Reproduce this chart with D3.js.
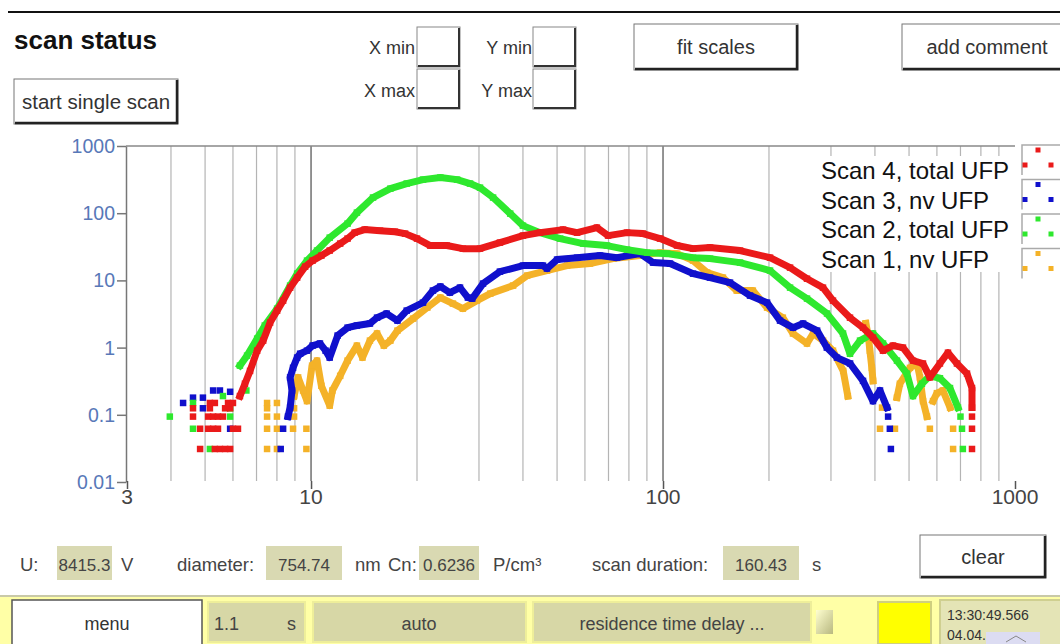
<!DOCTYPE html>
<html><head><meta charset="utf-8">
<script src="https://cdn.jsdelivr.net/npm/d3@7"></script>
<style>
body{margin:0;background:#fff;}
svg{display:block;font-family:"Liberation Sans",Arial,sans-serif;}
</style></head><body>
<svg id="c" width="1060" height="644"></svg>
<script>
// ---------- data ----------
const xTickValues = [3, 10, 100, 1000];
const xTickLabels = ["3", "10", "100", "1000"];
const yTickValues = [1000, 100, 10, 1, 0.1, 0.01];
const yTickLabels = ["1000", "100", "10", "1", "0.1", "0.01"];
const legendLabels = ["Scan 4, total UFP", "Scan 3, nv UFP", "Scan 2, total UFP", "Scan 1, nv UFP"];
const seriesColors = ["#ea1a1a", "#1010cc", "#2ee82e", "#f4b228"];

// Scan 4, total UFP (red)  [diameter nm, concentration]
const scan4Curve = [[6.28,0.19],[6.49,0.29],[6.71,0.45],[7.03,0.9],[7.31,1.27],[7.65,2.36],[8.01,3.55],[8.33,5.0],[8.72,7.8],[9.13,11],[9.62,16],[10.1,19.7],[10.7,23.4],[11.3,27.8],[12.1,35.3],[12.7,41.9],[13.3,51.4],[14.2,57],[15.7,55],[17.3,53],[18.5,49.7],[20.0,41.9],[21.8,33],[24.3,33],[27.0,29.7],[30.2,29.7],[34.4,36.5],[40,46.4],[44.7,51.4],[52,57],[57,51.4],[64.9,61],[69.8,46.4],[79,51.4],[87.7,49.7],[98.1,41.9],[109.6,33],[121.7,29.7],[136,30.8],[165.5,27.8],[201.4,21.8],[229.6,15.5],[256.5,10.6],[284.8,7.8],[304,5.0],[339.8,2.79],[370,1.98],[395,1.41],[421.7,0.9],[450,1.07],[480.6,1.0],[513,0.64],[547.7,0.58],[573,0.36],[612,0.58],[645,0.84],[684,0.58],[730.5,0.41],[754.8,0.25],[754.8,0.128]];
const scan4Dots = [[4.84,0.031],[5.33,0.031],[5.51,0.031],[5.7,0.031],[5.89,0.031],[4.84,0.062],[5.1,0.062],[5.27,0.062],[5.44,0.062],[6.0,0.062],[6.2,0.062],[4.62,0.094],[5.1,0.094],[5.27,0.094],[5.44,0.094],[5.62,0.094],[4.62,0.125],[5.16,0.125],[5.7,0.125],[5.89,0.125],[5.16,0.15],[5.33,0.15],[5.81,0.15],[6.0,0.15],[754.8,0.094],[754.8,0.062],[754.8,0.031]];

// Scan 3, nv UFP (blue)
const scan3Curve = [[8.6,0.094],[8.72,0.128],[8.83,0.23],[8.72,0.36],[8.89,0.5],[9.13,0.71],[9.31,0.81],[9.74,0.9],[10.1,1.07],[10.6,1.15],[11.0,0.9],[11.3,0.71],[11.9,1.51],[12.7,1.98],[13.5,2.13],[14.7,2.28],[15.4,2.79],[16.4,3.21],[17.6,2.52],[18.7,3.55],[20.8,4.67],[22.2,7.05],[23.3,8.1],[24.8,6.58],[26.5,7.81],[27.9,5.55],[28.7,5.36],[30.8,8.96],[34.4,13.5],[40,16.6],[45.6,16.6],[46.8,15.0],[50,20.4],[57,21.8],[66.2,23.4],[74,21.8],[86.1,25.0],[93.7,18.4],[104.7,17.8],[121.7,12.6],[136,11.0],[155,9.27],[176.7,5.94],[197.5,4.67],[215,2.52],[234,1.98],[250,2.28],[274,1.79],[292,1.0],[312,0.71],[340,0.58],[370,0.32],[395,0.16],[413.5,0.23],[433,0.128]];
const scan3Dots = [[4.33,0.15],[4.62,0.18],[4.93,0.18],[4.93,0.125],[5.27,0.23],[5.51,0.23],[5.89,0.22],[5.89,0.062],[8.2,0.031],[8.33,0.062],[436,0.094],[441,0.062],[444,0.031]];

// Scan 2, total UFP (green)
const scan2Curve = [[6.28,0.54],[6.58,0.76],[7.03,1.36],[7.39,2.13],[8.01,3.8],[8.72,8.37],[9.13,12.6],[9.74,19.7],[10.4,27.8],[11.3,43.3],[12.7,70],[13.5,102],[15.0,171],[16.8,232],[18.7,276],[20.8,316],[23.3,339],[26.0,316],[28.3,276],[30.2,240],[32.9,171],[36.8,98.7],[40,65.3],[44.7,51.4],[51,41.9],[59.3,35.3],[69.3,33],[79,28.7],[90.1,25.9],[102.7,25],[121.7,21.8],[136,21.1],[165.5,18.4],[201.4,14.0],[229.6,7.81],[256.5,5.36],[292.4,3.21],[324.6,1.62],[339.8,0.81],[362.8,1.27],[395,1.62],[421.7,1.15],[462,0.64],[493,0.41],[513,0.19],[544,0.29],[573,0.38],[612,0.35],[653.6,0.25],[688.8,0.128]];
const scan2Dots = [[3.97,0.094],[4.62,0.062],[4.62,0.15],[5.16,0.031],[5.62,0.19],[5.89,0.125],[5.89,0.094],[6.55,0.23],[700,0.094],[707,0.062],[711,0.031]];

// Scan 1, nv UFP (orange)
const scan1Curve = [[8.95,0.19],[9.19,0.36],[9.49,0.23],[9.74,0.16],[10.07,0.54],[10.4,0.64],[10.7,0.27],[11.3,0.137],[11.5,0.23],[12.1,0.38],[12.7,0.64],[13.5,1.07],[14.0,0.71],[14.7,1.27],[15.4,1.62],[16.1,1.07],[16.8,1.27],[17.6,1.79],[19.5,2.7],[21.4,3.94],[23.3,5.55],[25.3,4.52],[27.0,3.8],[29.6,5.0],[32.3,6.36],[37.5,8.37],[41.1,11.8],[46.8,14.0],[53.4,16.6],[62,17.8],[72.1,21.1],[86.1,23.4],[98.1,25.9],[109.6,25.0],[121.7,19.7],[133.4,13.1],[148,11.0],[162,7.05],[180,7.05],[197.5,3.94],[219,2.79],[234,1.62],[256.5,1.15],[267,1.62],[285,1.27],[304,0.9],[325,0.45],[335,0.19]];
const scan1TailA = [[377,2.3],[383,1.5],[387,0.9],[392,0.5],[395,0.32]];
const scan1TailB = [[462,0.18],[471,0.29],[503,0.5],[527,0.58],[537,0.36],[548,0.16],[562,0.094]];
const scan1TailC = [[585,0.16],[600,0.21],[624,0.23],[654,0.128]];
const scan1Dots = [[7.5,0.15],[7.5,0.125],[7.5,0.094],[7.5,0.062],[7.5,0.031],[8.0,0.15],[8.0,0.094],[8.0,0.062],[8.0,0.031],[8.89,0.062],[8.95,0.125],[8.95,0.094],[9.7,0.062],[9.7,0.031],[419,0.128],[413.5,0.062],[456,0.062],[573,0.062],[667,0.062],[667,0.031]];

// ---------- drawing ----------
const svg = d3.select("#c");
const x = d3.scaleLog().domain([3, 1000]).range([127, 1015]);
const y = d3.scaleLog().domain([0.01, 1000]).range([482, 146]);

// header line
svg.append("line").attr("x1",8).attr("x2",1060).attr("y1",12).attr("y2",12).attr("stroke","#111").attr("stroke-width",2);
svg.append("text").attr("x",14).attr("y",49).attr("font-size",26).attr("font-weight","bold").attr("fill","#111").text("scan status");

function button(x0,y0,w,h,label,fs){
  const g = svg.append("g");
  g.append("rect").attr("x",x0).attr("y",y0).attr("width",w).attr("height",h).attr("fill","#fff").attr("stroke","#777").attr("stroke-width",1);
  g.append("path").attr("d",`M${x0+1},${y0+h-1}H${x0+w-1}V${y0+1}`).attr("fill","none").attr("stroke","#222").attr("stroke-width",2.5);
  g.append("text").attr("x",x0+w/2).attr("y",y0+h/2+7).attr("text-anchor","middle").attr("font-size",fs).attr("fill","#333").text(label);
}
button(14,79,164,45,"start single scan",20.5);
button(634,24,164,46,"fit scales",20);
button(902,24,170,46,"add comment",20);
button(920,535,126,43,"clear",20);

function inputBox(x0,y0,w,h){
  svg.append("rect").attr("x",x0).attr("y",y0).attr("width",w).attr("height",h).attr("fill","#fff").attr("stroke","#888");
  svg.append("path").attr("d",`M${x0+1},${y0+h-1}H${x0+w-1}V${y0+1}`).attr("fill","none").attr("stroke","#333").attr("stroke-width",2);
}
const fieldLabels = [["X min",415,54,417,27],["X max",415,97,417,69],["Y min",532,54,533,27],["Y max",532,97,533,69]];
fieldLabels.forEach(f=>{
  svg.append("text").attr("x",f[1]).attr("y",f[2]).attr("text-anchor","end").attr("font-size",18).attr("fill","#333").text(f[0]);
  inputBox(f[3],f[4],43,40);
});

// grid
const minorX = [4,5,6,7,8,9,20,30,40,50,60,70,80,90,200,300,400,500,600,700,800,900];
const majorX = [10,100];
svg.append("g").selectAll("line").data(minorX).join("line")
  .attr("x1",d=>x(d)).attr("x2",d=>x(d)).attr("y1",146).attr("y2",481)
  .attr("stroke","#b4b4b4").attr("stroke-width",1.2);
svg.append("g").selectAll("line").data(majorX).join("line")
  .attr("x1",d=>x(d)).attr("x2",d=>x(d)).attr("y1",146).attr("y2",481)
  .attr("stroke","#666").attr("stroke-width",1.4);
svg.append("line").attr("x1",126).attr("x2",1015).attr("y1",146).attr("y2",146).attr("stroke","#888").attr("stroke-width",1.5);

// axes
const yAxis = d3.axisLeft(y).tickValues(yTickValues).tickFormat("").tickSize(9).tickSizeOuter(0);
const gy = svg.append("g").attr("transform","translate(126,0)").call(yAxis);
gy.selectAll("path,line").attr("stroke","#777").attr("stroke-width",1.5);
svg.append("g").selectAll("text").data(yTickValues).join("text")
  .attr("x",115).attr("y",d=>y(d)+7).attr("text-anchor","end").attr("font-size",19.5).attr("fill","#5878b8")
  .text((d,i)=>yTickLabels[i]);

const xAxis = d3.axisBottom(x).tickValues(xTickValues).tickFormat("").tickSize(8).tickSizeOuter(0);
const gx = svg.append("g").attr("transform","translate(0,481)").call(xAxis);
gx.select(".domain").remove();
gx.selectAll("line").attr("stroke","#555").attr("stroke-width",1.5);
svg.append("g").selectAll("text").data(xTickValues).join("text")
  .attr("x",d=>x(d)).attr("y",504).attr("text-anchor","middle").attr("font-size",21).attr("fill","#444")
  .text((d,i)=>xTickLabels[i]);

// series
const line = d3.line().x(d=>x(d[0])).y(d=>y(d[1]));
const S = 6.5;
function drawCurve(data,color){
  svg.append("path").datum(data).attr("d",line).attr("fill","none").attr("stroke",color)
    .attr("stroke-width",7).attr("stroke-linejoin","round").attr("stroke-linecap","square");
  drawDots(data,color);
}
function drawDots(data,color){
  svg.append("g").selectAll("rect").data(data).join("rect")
    .attr("x",d=>x(d[0])-S/2).attr("y",d=>y(d[1])-S/2).attr("width",S).attr("height",S).attr("fill",color);
}
const [cRed,cBlue,cGreen,cOrange] = seriesColors;
drawDots(scan1Dots,cOrange);
drawCurve(scan1Curve,cOrange);
drawCurve(scan1TailA,cOrange);
drawCurve(scan1TailB,cOrange);
drawCurve(scan1TailC,cOrange);
drawDots(scan3Dots,cBlue);
drawCurve(scan3Curve,cBlue);
drawDots(scan2Dots,cGreen);
drawCurve(scan2Curve,cGreen);
drawDots(scan4Dots,cRed);
drawCurve(scan4Curve,cRed);

// legend
svg.append("rect").attr("x",818).attr("y",156).attr("width",200).attr("height",116).attr("fill","#fff");
legendLabels.forEach((lab,i)=>{
  const yy = 179 + i*29.5;
  svg.append("text").attr("x",821).attr("y",yy).attr("font-size",24).attr("fill","#111").text(lab);
  const by = 145 + i*34.5;
  svg.append("path").attr("d",`M1022,${by+30}V${by}H1060`).attr("fill","none").attr("stroke","#aaa").attr("stroke-width",1.5);
  const col = seriesColors[i];
  [[1038,by+5],[1025,by+20],[1051,by+20]].forEach(p=>{
    svg.append("rect").attr("x",p[0]-2.5).attr("y",p[1]-2.5).attr("width",5).attr("height",5).attr("fill",col);
  });
});

// info row
const infoItems = [
  {t:"U:",x:20},{v:"8415.3",x:57,w:55},{t:"V",x:121},
  {t:"diameter:",x:177},{v:"754.74",x:266,w:76},{t:"nm",x:355},
  {t:"Cn:",x:388},{v:"0.6236",x:419,w:60},{t:"P/cm³",x:493},
  {t:"scan duration:",x:592},{v:"160.43",x:723,w:76},{t:"s",x:812}
];
infoItems.forEach(it=>{
  if(it.v){
    svg.append("rect").attr("x",it.x).attr("y",546).attr("width",it.w).attr("height",34).attr("fill","#d9d9b2");
    svg.append("text").attr("x",it.x+it.w/2).attr("y",571).attr("text-anchor","middle").attr("font-size",17).attr("fill","#444").text(it.v);
  } else {
    svg.append("text").attr("x",it.x).attr("y",571).attr("font-size",18.5).attr("fill","#444").text(it.t);
  }
});

// status bar
svg.append("rect").attr("x",0).attr("y",596).attr("width",1060).attr("height",48).attr("fill","#ffffa6");
svg.append("line").attr("x1",0).attr("x2",1060).attr("y1",596).attr("y2",596).attr("stroke","#c9c9a8").attr("stroke-width",2);
svg.append("rect").attr("x",12).attr("y",600).attr("width",190).attr("height",46).attr("fill","#fff").attr("stroke","#555").attr("stroke-width",1.5);
svg.append("text").attr("x",107).attr("y",630).attr("text-anchor","middle").attr("font-size",18).attr("fill","#333").text("menu");
function khaki(x0,w){
  svg.append("rect").attr("x",x0).attr("y",602).attr("width",w).attr("height",40).attr("fill","#d7d7a6").attr("stroke","#eeee9a").attr("stroke-width",2);
}
khaki(208,97); khaki(313,213); khaki(533,278);
svg.append("text").attr("x",214).attr("y",630).attr("font-size",18).attr("fill","#444").text("1.1");
svg.append("text").attr("x",287).attr("y",630).attr("font-size",18).attr("fill","#444").text("s");
svg.append("text").attr("x",419).attr("y",630).attr("text-anchor","middle").attr("font-size",18).attr("fill","#444").text("auto");
svg.append("text").attr("x",672).attr("y",630).attr("text-anchor","middle").attr("font-size",18).attr("fill","#444").text("residence time delay ...");
const grad = svg.append("defs").append("linearGradient").attr("id","dd").attr("x1",0).attr("y1",0).attr("x2",1).attr("y2",1);
grad.append("stop").attr("offset","0").attr("stop-color","#ffffd0");
grad.append("stop").attr("offset","1").attr("stop-color","#b8b880");
svg.append("rect").attr("x",816).attr("y",610).attr("width",17).attr("height",24).attr("fill","url(#dd)");
svg.append("rect").attr("x",878).attr("y",602).attr("width",53).attr("height",42).attr("fill","#ffff00").attr("stroke","#cfcf80").attr("stroke-width",2);
svg.append("rect").attr("x",940).attr("y",600).attr("width",125).attr("height",46).attr("fill","#e4e4b6").attr("stroke","#cfcf90").attr("stroke-width",2);
svg.append("text").attr("x",947).attr("y",620).attr("font-size",14).attr("fill","#333").text("13:30:49.566");
svg.append("text").attr("x",947).attr("y",640).attr("font-size",14).attr("fill","#333").text("04.04.");
svg.append("path").attr("d","M986,644V632H1040V644Z").attr("fill","#dcdcf2");
svg.append("path").attr("d","M1006,642L1016,636L1026,642").attr("fill","none").attr("stroke","#888").attr("stroke-width",1);
</script>
</body></html>
